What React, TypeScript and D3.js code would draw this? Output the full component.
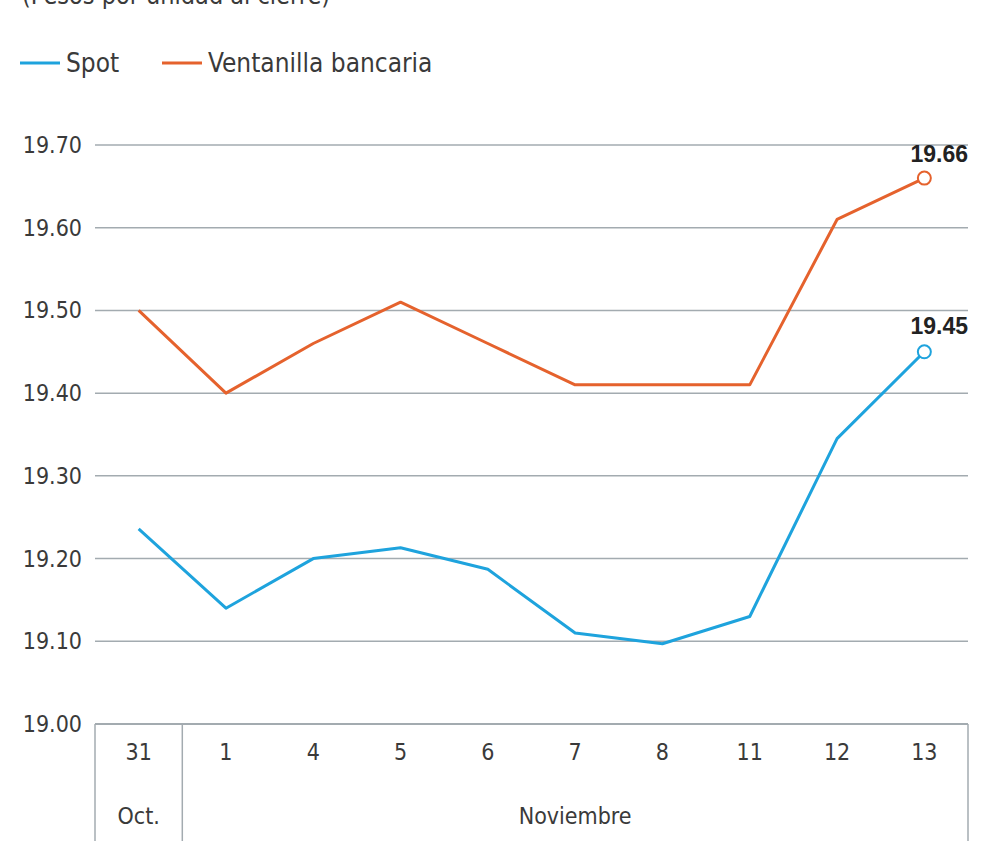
import * as d3 from "d3";
import { useEffect, useRef } from "react";

const days = ["31", "1", "4", "5", "6", "7", "8", "11", "12", "13"];
const months = [
  { label: "Oct.", from: 0, to: 1 },
  { label: "Noviembre", from: 1, to: 10 },
];
const spot = [19.236, 19.14, 19.2, 19.213, 19.187, 19.11, 19.097, 19.13, 19.345, 19.45];
const ventanilla = [19.5, 19.4, 19.46, 19.51, 19.46, 19.41, 19.41, 19.41, 19.61, 19.66];
const yTicks = [19.0, 19.1, 19.2, 19.3, 19.4, 19.5, 19.6, 19.7];

const BLUE = "#1ea3dd";
const ORANGE = "#e5622d";
const GRID = "#a3abb0";
const TEXT = "#3a3a3a";
const NARROW = "'Liberation Sans Narrow', 'DejaVu Sans Condensed', 'Roboto', sans-serif";

const W = 993;
const H = 841;

export default function App() {
  const ref = useRef<SVGSVGElement>(null);

  useEffect(() => {
    const svg = d3.select(ref.current);
    svg.selectAll("*").remove();

    const left = 95;
    const right = 968;
    const x = d3.scaleBand<string>().domain(days).range([left, right]);
    const y = d3.scaleLinear().domain([19.0, 19.7]).range([724, 145]);
    const cx = (i: number) => (x(days[i]) as number) + x.bandwidth() / 2;

    // title (cut off at top)
    svg
      .append("text")
      .attr("x", 22)
      .attr("y", 4)
      .attr("font-family", NARROW)
      .attr("font-size", 25)
      .attr("fill", TEXT)
      .text("(Pesos por unidad al cierre)");

    // legend
    const legend = [
      { name: "Spot", color: BLUE, x: 20 },
      { name: "Ventanilla bancaria", color: ORANGE, x: 162 },
    ];
    const lg = svg.append("g").selectAll("g").data(legend).join("g");
    lg.append("line")
      .attr("x1", (d) => d.x)
      .attr("x2", (d) => d.x + 40)
      .attr("y1", 63)
      .attr("y2", 63)
      .attr("stroke", (d) => d.color)
      .attr("stroke-width", 3);
    lg.append("text")
      .attr("x", (d) => d.x + 46)
      .attr("y", 72)
      .attr("font-family", NARROW)
      .attr("font-size", 26)
      .attr("fill", TEXT)
      .text((d) => d.name);

    // grid + y labels
    const grid = svg.append("g");
    grid
      .selectAll("line")
      .data(yTicks)
      .join("line")
      .attr("x1", left)
      .attr("x2", right)
      .attr("y1", (d) => y(d))
      .attr("y2", (d) => y(d))
      .attr("stroke", GRID)
      .attr("stroke-width", (d) => (d === 19.0 ? 2 : 1.5));
    grid
      .selectAll("text")
      .data(yTicks)
      .join("text")
      .attr("x", 82)
      .attr("y", (d) => y(d))
      .attr("dy", "0.35em")
      .attr("text-anchor", "end")
      .attr("font-family", NARROW)
      .attr("font-size", 23)
      .attr("fill", TEXT)
      .text((d) => d.toFixed(2));

    // table below
    const table = svg.append("g");
    const seps = [0, 1, 10].map((i) => (i === 10 ? right : (x(days[i]) as number)));
    table
      .selectAll("line")
      .data(seps)
      .join("line")
      .attr("x1", (d) => d)
      .attr("x2", (d) => d)
      .attr("y1", y(19.0))
      .attr("y2", H)
      .attr("stroke", GRID)
      .attr("stroke-width", 1.5);
    table
      .selectAll("text.day")
      .data(days)
      .join("text")
      .attr("class", "day")
      .attr("x", (d) => (x(d) as number) + x.bandwidth() / 2)
      .attr("y", 760)
      .attr("text-anchor", "middle")
      .attr("font-family", NARROW)
      .attr("font-size", 23)
      .attr("fill", TEXT)
      .text((d) => d);
    table
      .selectAll("text.month")
      .data(months)
      .join("text")
      .attr("class", "month")
      .attr("x", (d) => {
        const a = x(days[d.from]) as number;
        const b = d.to >= days.length ? right : (x(days[d.to]) as number);
        return (a + b) / 2;
      })
      .attr("y", 824)
      .attr("text-anchor", "middle")
      .attr("font-family", NARROW)
      .attr("font-size", 23)
      .attr("fill", TEXT)
      .text((d) => d.label);

    // lines
    const line = d3
      .line<number>()
      .x((_, i) => cx(i))
      .y((d) => y(d));
    const series = [
      { values: ventanilla, color: ORANGE, labelDy: -16 },
      { values: spot, color: BLUE, labelDy: -18 },
    ];
    series.forEach((s) => {
      svg
        .append("path")
        .datum(s.values)
        .attr("d", line)
        .attr("fill", "none")
        .attr("stroke", s.color)
        .attr("stroke-width", 3)
        .attr("stroke-linejoin", "round");
      const last = s.values.length - 1;
      svg
        .append("circle")
        .attr("cx", cx(last))
        .attr("cy", y(s.values[last]))
        .attr("r", 6.5)
        .attr("fill", "#fff")
        .attr("stroke", s.color)
        .attr("stroke-width", 2);
      svg
        .append("text")
        .attr("x", right)
        .attr("y", y(s.values[last]) + s.labelDy)
        .attr("text-anchor", "end")
        .attr("font-family", "'Liberation Sans', Arial, sans-serif")
        .attr("font-weight", "bold")
        .attr("font-size", 23)
        .attr("fill", "#222")
        .text(s.values[last].toFixed(2));
    });
  }, []);

  return (
    <svg
      ref={ref}
      width={W}
      height={H}
      style={{ position: "absolute", left: 0, top: 0, background: "#fff" }}
    />
  );
}
